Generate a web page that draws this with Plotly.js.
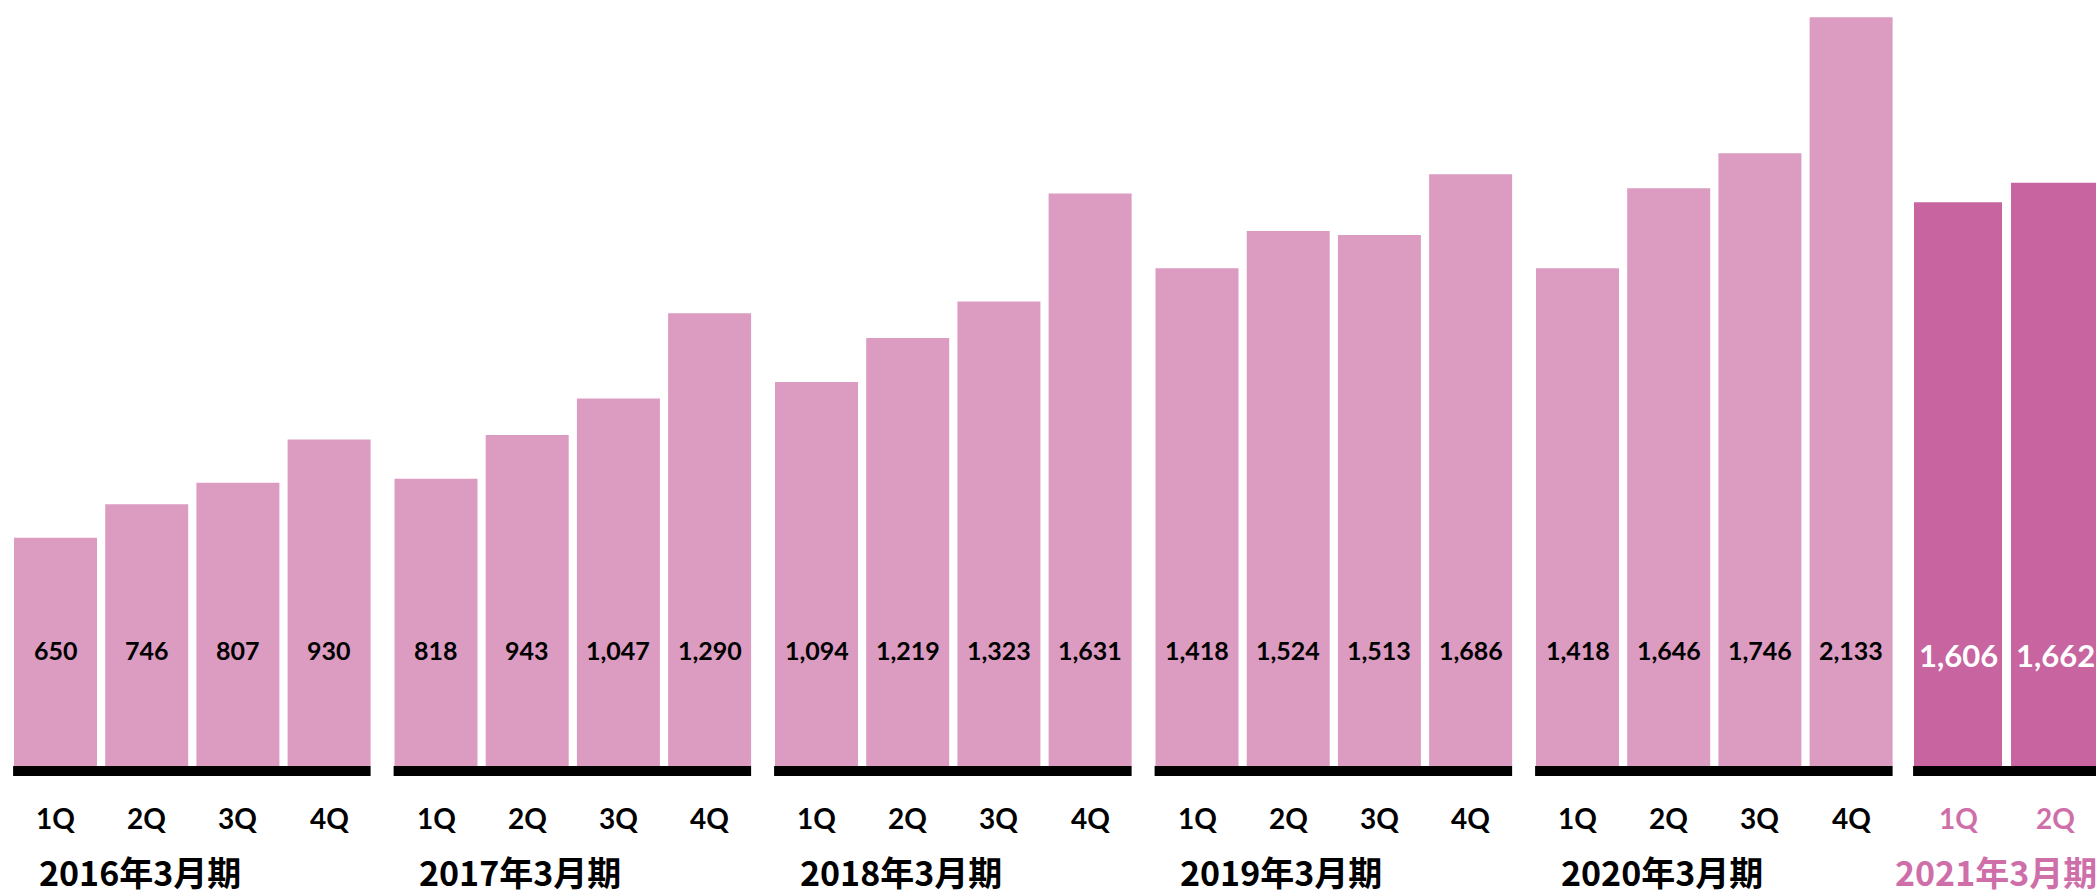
<!DOCTYPE html>
<html>
<head>
<meta charset="utf-8">
<script src="https://cdn.plot.ly/plotly-3.0.1.min.js"></script>
<style>html,body{margin:0;padding:0;background:#fff;}#chart{width:2096px;height:896px;}</style>
</head>
<body>
<div id="chart"></div>
<script>
// ---- data ----
const years = ["2016年3月期", "2017年3月期", "2018年3月期", "2019年3月期", "2020年3月期", "2021年3月期"];
const quarters = ["1Q", "2Q", "3Q", "4Q"];
const v2016 = [650, 746, 807, 930];
const v2017 = [818, 943, 1047, 1290];
const v2018 = [1094, 1219, 1323, 1631];
const v2019 = [1418, 1524, 1513, 1686];
const v2020 = [1418, 1646, 1746, 2133];
const v2021 = [1606, 1662];
const series = [v2016, v2017, v2018, v2019, v2020, v2021];

// ---- style / layout helpers ----
const LIGHT = "#DC9BC1", DARK = "#C864A0", PINKTXT = "#CF6FA9";
const GROUP = 4.172;           // group spacing in bar units
const fmt = n => n.toLocaleString("en-US");
const isCur = g => g === series.length - 1;
const step = g => isCur(g) ? 1.064 : 1;
const bw = g => isCur(g) ? 0.965 : 0.91;
const xpos = (g, q) => g * GROUP + q * step(g);

const pastX = [], pastY = [], curX = [], curY = [];
const annotations = [], shapes = [];
series.forEach((vals, g) => {
  vals.forEach((v, q) => {
    const x = xpos(g, q);
    if (isCur(g)) { curX.push(x); curY.push(v); } else { pastX.push(x); pastY.push(v); }
    annotations.push({
      x: x, y: isCur(g) ? 316 : 330, xref: "x", yref: "y", text: fmt(v), showarrow: false,
      xanchor: "center", yanchor: "middle",
      font: {family: "Lato, sans-serif", size: isCur(g) ? 31 : 25, weight: 700, color: isCur(g) ? "#ffffff" : "#000000"}
    });
  });
  quarters.forEach((qt, q) => {
    if (!isCur(g) || q < vals.length) {
      annotations.push({
        x: xpos(g, q), y: -148, xref: "x", yref: "y", text: qt, showarrow: false,
        xanchor: "center", yanchor: "middle",
        font: {family: "Lato, sans-serif", size: 28, weight: 700, color: isCur(g) ? PINKTXT : "#000000"}
      });
    }
  });
  const left = xpos(g, 0) - bw(g) / 2;
  const right = xpos(g, 3) + bw(g) / 2;
  shapes.push({type: "rect", xref: "x", yref: "y", x0: left - 0.01, x1: right, y0: 0, y1: -28.5,
               fillcolor: "#000000", line: {width: 0}, layer: "above"});
  annotations.push({
    x: isCur(g) ? left - 0.23 : left + 0.25, y: -302, xref: "x", yref: "y", text: years[g], showarrow: false,
    xanchor: "left", yanchor: "middle",
    font: {family: "'Noto Sans CJK JP', sans-serif", size: 34, weight: 700, color: isCur(g) ? PINKTXT : "#000000"}
  });
});

const traces = [
  {type: "bar", x: pastX, y: pastY, width: 0.91, marker: {color: LIGHT, line: {width: 0}}, hoverinfo: "skip"},
  {type: "bar", x: curX, y: curY, width: 0.965, marker: {color: DARK, line: {width: 0}}, hoverinfo: "skip"}
];

const layout = {
  width: 2096, height: 896,
  margin: {l: 0, r: 0, t: 0, b: 0, pad: 0},
  paper_bgcolor: "#ffffff", plot_bgcolor: "#ffffff",
  showlegend: false, barmode: "overlay",
  xaxis: {range: [-0.6086, 22.373], visible: false, showgrid: false, zeroline: false, fixedrange: true},
  yaxis: {range: [-370.4, 2182.3], visible: false, showgrid: false, zeroline: false, fixedrange: true},
  annotations: annotations,
  shapes: shapes
};

Plotly.newPlot("chart", traces, layout, {displayModeBar: false, staticPlot: true});
</script>
</body>
</html>
